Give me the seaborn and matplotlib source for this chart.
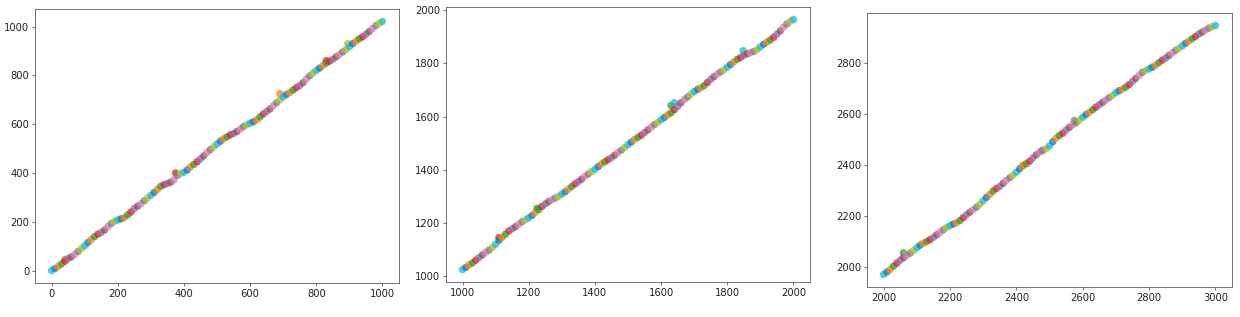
import matplotlib
matplotlib.use("Agg")
import matplotlib.pyplot as plt
import seaborn as sns
import pandas as pd

# ---- data ----
x1 = list(range(0, 1001, 10))
y1 = [0, 8, 17, 27, 38, 49, 56, 66, 78, 90,
      102, 115, 127, 139, 149, 156, 166, 180, 192, 202,
      207, 212, 217, 228, 240, 254, 264, 274, 286, 297,
      308, 320, 333, 345, 352, 357, 362, 372, 390, 398,
      403, 412, 425, 435, 446, 458, 470, 484, 496, 507,
      518, 530, 540, 548, 556, 562, 570, 580, 590, 598,
      604, 610, 618, 630, 642, 652, 662, 675, 688, 700,
      712, 722, 730, 740, 750, 758, 770, 785, 798, 810,
      820, 830, 840, 850, 858, 866, 876, 886, 896, 906,
      918, 930, 940, 950, 958, 968, 980, 992, 1004, 1013,
      1021]
out_x1 = [40, 375, 690, 895, 830]
out_y1 = [45, 400, 725, 930, 860]
out_c1 = [1, 3, 1, 8, 3]

x2 = list(range(1000, 2001, 10))
y2 = [1025, 1033, 1043, 1050, 1060, 1070, 1080, 1090, 1098, 1108,
      1120, 1135, 1146, 1158, 1170, 1178, 1186, 1195, 1205, 1212,
      1219, 1228, 1240, 1250, 1262, 1272, 1280, 1287, 1294, 1300,
      1308, 1317, 1327, 1337, 1347, 1356, 1365, 1375, 1384, 1393,
      1402, 1412, 1422, 1430, 1438, 1446, 1455, 1465, 1474, 1484,
      1494, 1504, 1514, 1522, 1530, 1540, 1550, 1560, 1570, 1578,
      1588, 1597, 1606, 1614, 1626, 1638, 1652, 1664, 1674, 1684,
      1694, 1702, 1708, 1716, 1728, 1740, 1750, 1760, 1768, 1776,
      1786, 1796, 1806, 1815, 1822, 1830, 1836, 1840, 1845, 1852,
      1862, 1872, 1880, 1888, 1898, 1910, 1922, 1936, 1948, 1958,
      1965]
out_x2 = [1630, 1640, 1848, 1225, 1110]
out_y2 = [1642, 1652, 1848, 1255, 1145]
out_c2 = [2, 9, 9, 2, 3]

x3 = list(range(2000, 3001, 10))
y3 = [1970, 1980, 1990, 2003, 2015, 2027, 2036, 2045, 2054, 2064,
      2075, 2085, 2093, 2100, 2107, 2116, 2126, 2136, 2146, 2155,
      2162, 2168, 2174, 2182, 2193, 2205, 2215, 2225, 2235, 2246,
      2260, 2273, 2285, 2298, 2308, 2316, 2328, 2340, 2350, 2360,
      2372, 2385, 2396, 2405, 2415, 2428, 2440, 2450, 2458, 2465,
      2475, 2492, 2506, 2516, 2525, 2537, 2548, 2558, 2566, 2576,
      2588, 2598, 2607, 2617, 2627, 2637, 2646, 2655, 2665, 2674,
      2684, 2692, 2698, 2706, 2716, 2728, 2740, 2752, 2764, 2772,
      2778, 2784, 2792, 2802, 2812, 2820, 2830, 2840, 2850, 2858,
      2868, 2878, 2887, 2896, 2905, 2914, 2922, 2930, 2937, 2943,
      2948]
out_x3 = [2060, 2575, 2420, 2475]
out_y3 = [2055, 2575, 2400, 2455]
out_c3 = [2, 7, 1, 4]

groups = ["c%d" % i for i in range(10)]
palette = sns.color_palette("tab10", 10)

DPI = 60
fig = plt.figure(figsize=(1240 / DPI, 317 / DPI), dpi=DPI)
rects = [
    [35 / 1240, 1 - 283 / 317, 364 / 1240, 274 / 317],
    [446 / 1240, 1 - 282 / 317, 364 / 1240, 275 / 317],
    [867 / 1240, 1 - 287 / 317, 365 / 1240, 274 / 317],
]
panels = [
    (x1, y1, out_x1, out_y1, out_c1),
    (x2, y2, out_x2, out_y2, out_c2),
    (x3, y3, out_x3, out_y3, out_c3),
]
for rect, (xs, ys, ox, oy, oc) in zip(rects, panels):
    ax = fig.add_axes(rect)
    n = len(xs)
    hue = [groups[(i + 9) % 10] for i in range(n)]
    df = pd.DataFrame({"x": xs, "y": ys, "g": hue})
    df_out = pd.DataFrame({"x": ox, "y": oy, "g": [groups[c] for c in oc]})
    df_all = pd.concat([df_out, df], ignore_index=True)
    sns.scatterplot(data=df_all, x="x", y="y", hue="g", hue_order=groups,
                    palette=palette, s=80, alpha=0.75, linewidth=0,
                    legend=False, ax=ax)
    ax.set_xlabel("")
    ax.set_ylabel("")
    ax.tick_params(labelsize=12, color="#333333", labelcolor="#222222")
    for sp in ax.spines.values():
        sp.set_color("#333333")

fig.savefig("out.png", dpi=DPI)
